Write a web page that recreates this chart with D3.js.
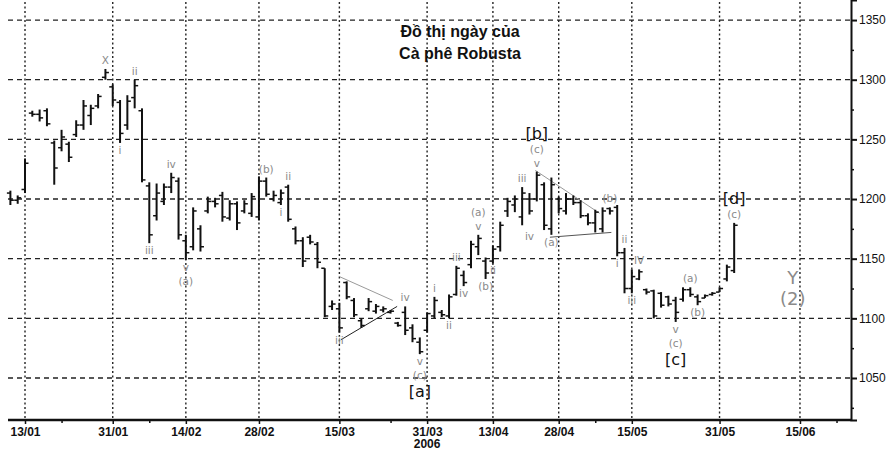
<!DOCTYPE html>
<html lang="vi">
<head>
<meta charset="UTF-8">
<title>Đồ thị ngày của Cà phê Robusta</title>
<script src="https://cdn.jsdelivr.net/npm/d3@7"></script>
<style>
  * { margin: 0; padding: 0; box-sizing: border-box; }
  body { background: #fff; width: 887px; height: 451px; overflow: hidden; }
  svg { display: block; }
  .tick text { font-family: 'Liberation Sans', Arial, sans-serif; fill: #111; }
</style>
</head>
<body>
<svg width="887" height="451"></svg>
<script>
// Daily OHLC bars, indexed by trading day (0 = 13/01/2006)
const firstBar = -2;
const opens  = [1205,1199,1208,1272,1271,1274,1247,1243,1246,1254,1262,1270,1278,1302,1294,1281,1262,1285,1274,1211,
                1186,1198,1210,1215,1165,1160,1175,1190,1198,1203,1184,1196,1190,1188,1185,1215,1200,1197,1210,1175,
                1165,1168,1162,1142,1110,1108,1130,1115,1098,1108,1106,1107,1105,1096,1105,1092,1080,1090,1102,1105,
                1102,1120,1136,1145,1160,1148,1148,1160,1190,1195,1185,1200,1200,1212,1175,1200,1190,1200,1197,1186,
                1180,1175,1192,1193,1155,1125,1133,1124,1123,1121,1118,1115,1116,1124,1118,1117,1120,1122,1133,1140];
const highs  = [1207,1203,1234,1274,1275,1276,1249,1258,1248,1266,1283,1279,1288,1309,1296,1283,1287,1300,1276,1214,
                1213,1213,1222,1218,1170,1193,1178,1202,1201,1206,1199,1198,1199,1205,1219,1218,1207,1208,1212,1177,
                1168,1170,1164,1142,1115,1113,1131,1117,1100,1117,1112,1110,1107,1097,1110,1095,1084,1105,1118,1107,
                1120,1144,1140,1165,1170,1151,1161,1181,1201,1203,1210,1205,1223,1214,1218,1202,1205,1203,1199,1188,
                1191,1193,1193,1195,1159,1141,1141,1125,1124,1122,1119,1118,1126,1126,1120,1120,1122,1126,1145,1180];
const lows   = [1195,1196,1205,1269,1265,1261,1212,1240,1231,1252,1258,1262,1276,1300,1278,1247,1258,1276,1214,1163,
                1182,1195,1205,1166,1149,1157,1156,1188,1193,1181,1182,1174,1188,1185,1182,1202,1198,1195,1181,1162,
                1143,1162,1142,1101,1107,1088,1116,1101,1092,1106,1104,1105,1104,1093,1086,1080,1070,1088,1100,1101,
                1100,1119,1127,1142,1153,1133,1146,1156,1185,1189,1178,1187,1198,1174,1170,1188,1187,1195,1184,1178,
                1172,1172,1187,1152,1121,1121,1132,1120,1100,1109,1110,1097,1114,1118,1111,1117,1119,1122,1131,1138];
const closes = [1199,1201,1230,1271,1268,1263,1226,1252,1235,1262,1278,1276,1286,1306,1283,1255,1282,1295,1216,1170,
                1205,1210,1218,1170,1155,1190,1160,1198,1196,1185,1196,1180,1196,1202,1215,1204,1203,1205,1183,1165,
                1148,1164,1147,1102,1112,1092,1118,1103,1094,1114,1110,1108,1106,1094,1090,1083,1072,1104,1115,1103,
                1118,1142,1130,1162,1167,1138,1158,1178,1198,1200,1205,1190,1220,1178,1212,1192,1200,1197,1186,1180,
                1189,1190,1190,1155,1125,1135,1139,1122,1102,1111,1112,1105,1124,1120,1114,1119,1121,1125,1143,1178];

// Axis ticks
const priceTicks = [1050, 1100, 1150, 1200, 1250, 1300, 1350];
const minorPriceTicks = [1025, 1075, 1125, 1175, 1225, 1275, 1325];
const dateTickIdx = [0, 12, 22, 32, 43, 55, 64, 73, 83, 95, 106];
const dateTickLabels = ['13/01', '31/01', '14/02', '28/02', '15/03', '31/03', '13/04', '28/04', '15/05', '31/05', '15/06'];
const minorDateIdx = [5, 17, 50, 78, 111];

// Elliott wave labels: bar index, text, above/below, stacking tier, major?
const waveLabels = [
  [11, 'X', 'above', 0, false],
  [15, 'ii', 'above', 0, false],
  [13, 'i', 'below', 0, false],
  [17, 'iii', 'below', 0, false],
  [20, 'iv', 'above', 0, false],
  [22, 'v', 'below', 0, false],
  [22, '(a)', 'below', 1, false],
  [33, '(b)', 'above', 0, false],
  [36, 'ii', 'above', 0, false],
  [35, 'i', 'below', 0, false],
  [43, 'iii', 'below', 0, false],
  [52, 'iv', 'above', 0, false],
  [54, 'v', 'below', 0, false],
  [54, '(c)', 'below', 1, false],
  [54, '[a]', 'below', 2, true],
  [56, 'i', 'above', 0, false],
  [58, 'ii', 'below', 0, false],
  [59, 'iii', 'above', 0, false],
  [60, 'iv', 'below', 0, false],
  [62, 'v', 'above', 0, false],
  [62, '(a)', 'above', 1, false],
  [63, '(b)', 'below', 0, false],
  [64, 'ii', 'below', 0, false],
  [68, 'iii', 'above', 0, false],
  [69, 'iv', 'below', 1, false],
  [70, 'v', 'above', 0, false],
  [70, '(c)', 'above', 1, false],
  [70, '[b]', 'above', 2, true],
  [72, '(a)', 'below', 0, false],
  [80, '(b)', 'above', 0, false],
  [82, 'ii', 'above', 0, false],
  [81, 'i', 'below', 0, false],
  [83, 'iii', 'below', 0, false],
  [84, 'IV', 'above', 0, false],
  [89, 'v', 'below', 0, false],
  [89, '(c)', 'below', 1, false],
  [89, '[c]', 'below', 2, true],
  [91, '(a)', 'above', 0, false],
  [92, '(b)', 'below', 0, false],
  [97, '(c)', 'above', 0, false],
  [97, '[d]', 'above', 1, true]
];
// Free labels: trading-day index, price, text
const freeLabels = [[105, 1129, 'Y'], [105, 1111, '(2)']];

// Triangle trend lines: [idx0, price0, idx1, price1, colour]
const trendLines = [
  [43, 1135, 50.3, 1115, '#9a9a9a'],
  [43.2, 1082, 50.9, 1110, '#222'],
  [69.8, 1224, 78.6, 1188, '#9a9a9a'],
  [71.8, 1168, 80.2, 1172, '#555']
];

const bars = opens.map((o, k) => ({ i: firstBar + k, o, h: highs[k], l: lows[k], c: closes[k] }));
const barByIdx = new Map(bars.map(b => [b.i, b]));

const svg = d3.select('svg');
const x = d3.scaleLinear().domain([-3.42, 112.98]).range([0, 851]);
const y = d3.scaleLinear().domain([1014.8, 1366.8]).range([420, 0]);

// Grid
svg.append('g').selectAll('line').data(priceTicks).join('line')
  .attr('x1', 8).attr('x2', 851)
  .attr('y1', d => y(d)).attr('y2', d => y(d))
  .attr('stroke', '#222').attr('stroke-width', 1.3).attr('stroke-dasharray', '5,4');
svg.append('g').selectAll('line').data(dateTickIdx).join('line')
  .attr('x1', d => x(d)).attr('x2', d => x(d))
  .attr('y1', 2).attr('y2', 420)
  .attr('stroke', '#222').attr('stroke-width', 1.4).attr('stroke-dasharray', '2,2.5');

// Trend lines
svg.append('g').selectAll('line').data(trendLines).join('line')
  .attr('x1', d => x(d[0])).attr('y1', d => y(d[1]))
  .attr('x2', d => x(d[2])).attr('y2', d => y(d[3]))
  .attr('stroke', d => d[4]).attr('stroke-width', 1);

// OHLC bars
const bg = svg.append('g').attr('stroke', '#111').attr('stroke-width', 2);
bg.selectAll('line.hl').data(bars).join('line').attr('class', 'hl')
  .attr('x1', d => x(d.i)).attr('x2', d => x(d.i))
  .attr('y1', d => y(d.h)).attr('y2', d => y(d.l));
bg.selectAll('line.op').data(bars).join('line').attr('class', 'op')
  .attr('x1', d => x(d.i) - 3.5).attr('x2', d => x(d.i))
  .attr('y1', d => y(d.o)).attr('y2', d => y(d.o)).attr('stroke-width', 1.5);
bg.selectAll('line.cl').data(bars).join('line').attr('class', 'cl')
  .attr('x1', d => x(d.i)).attr('x2', d => x(d.i) + 3.5)
  .attr('y1', d => y(d.c)).attr('y2', d => y(d.c)).attr('stroke-width', 1.5);

// Right price axis
const yAxis = svg.append('g').attr('transform', 'translate(851,0)')
  .call(d3.axisRight(y).tickValues(priceTicks).tickSize(6).tickPadding(2).tickFormat(d3.format('d')));
yAxis.select('.domain').attr('stroke', '#111').attr('stroke-width', 2);
yAxis.selectAll('.tick line').attr('stroke', '#111').attr('stroke-width', 2);
yAxis.selectAll('.tick text').attr('font-size', 12);
svg.append('g').attr('transform', 'translate(851,0)')
  .call(d3.axisRight(y).tickValues(minorPriceTicks).tickSize(3).tickFormat(''))
  .call(g => g.select('.domain').remove())
  .selectAll('.tick line').attr('stroke', '#111').attr('stroke-width', 1.5);

// Bottom date axis
const xAxis = svg.append('g').attr('transform', 'translate(0,420)')
  .call(d3.axisBottom(x).tickValues(dateTickIdx).tickSize(4).tickPadding(3)
    .tickFormat((d, k) => dateTickLabels[k]));
xAxis.select('.domain').attr('stroke', '#111').attr('stroke-width', 2.5).attr('d', 'M8,0H851');
xAxis.selectAll('.tick line').attr('stroke', '#111').attr('stroke-width', 1.5);
xAxis.selectAll('.tick text').attr('font-size', 12).attr('font-weight', 'bold');
svg.append('g').attr('transform', 'translate(0,420)')
  .call(d3.axisBottom(x).tickValues(minorDateIdx.filter(d => d < 112)).tickSize(3).tickFormat(''))
  .call(g => g.select('.domain').remove())
  .selectAll('.tick line').attr('stroke', '#111').attr('stroke-width', 1.5);
svg.append('text').attr('x', x(55)).attr('y', 448).attr('text-anchor', 'middle')
  .attr('font-family', "'Liberation Sans', Arial, sans-serif").attr('font-size', 12)
  .attr('font-weight', 'bold').attr('fill', '#111').text('2006');

// Title
const title = svg.append('text').attr('text-anchor', 'middle')
  .attr('font-family', "'Liberation Sans', Arial, sans-serif").attr('font-weight', 'bold')
  .attr('font-size', 16).attr('fill', '#111');
title.append('tspan').attr('x', 460).attr('y', 37).text('Đồ thị ngày của');
title.append('tspan').attr('x', 460).attr('y', 59).text('Cà phê Robusta');

// Wave labels
const lg = svg.append('g').attr('font-family', "'DejaVu Sans', sans-serif").attr('text-anchor', 'middle');
lg.selectAll('text.w').data(waveLabels).join('text').attr('class', 'w')
  .attr('x', d => x(d[0]))
  .attr('y', d => {
    const b = barByIdx.get(d[0]);
    return d[2] === 'above' ? y(b.h) - 5 - d[3] * 14 : y(b.l) + 11 + d[3] * 14 + (d[4] ? 4 : 0);
  })
  .attr('font-size', d => d[4] ? 16 : 10.5)
  .attr('fill', d => d[4] ? '#111' : '#8a8a8a')
  .text(d => d[1]);
lg.selectAll('text.f').data(freeLabels).join('text').attr('class', 'f')
  .attr('x', d => x(d[0])).attr('y', d => y(d[1]))
  .attr('font-size', 18).attr('fill', '#8a8a8a')
  .text(d => d[2]);
</script>
</body>
</html>
